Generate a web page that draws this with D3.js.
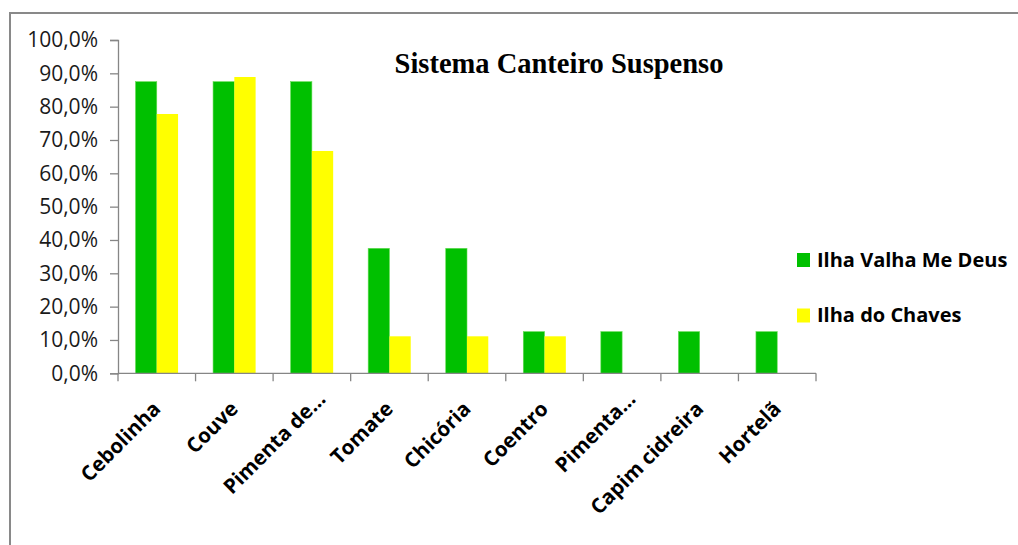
<!DOCTYPE html>
<html>
<head>
<meta charset="utf-8">
<script src="https://cdn.jsdelivr.net/npm/d3@7"></script>
<style>
  body { margin: 0; background: #ffffff; }
  svg { display: block; }
</style>
</head>
<body>
<svg id="drawing_region"></svg>
<script>
const categories = ['Cebolinha', 'Couve', 'Pimenta de…', 'Tomate', 'Chicória', 'Coentro', 'Pimenta…', 'Capim cidreira', 'Hortelã'];
const seriesNames = ['Ilha Valha Me Deus', 'Ilha do Chaves'];
const valhaMeDeus = [87.5, 87.5, 87.5, 37.5, 37.5, 12.5, 12.5, 12.5, 12.5];
const doChaves = [77.8, 88.9, 66.7, 11.1, 11.1, 11.1, 0, 0, 0];
const yTicks = [0, 10, 20, 30, 40, 50, 60, 70, 80, 90, 100];
const colors = ['#00c000', '#ffff00'];

class GroupedBarChart {

    constructor(config) {
        this.config = config;
        this.init();
    }

    init() {
        const self = this;
        const c = self.config;

        self.svg = d3.select(c.parent)
            .attr('width', c.width)
            .attr('height', c.height);

        // outer frame (right and bottom edges fall off the picture)
        self.svg.append('rect')
            .attr('x', 10).attr('y', 13)
            .attr('width', 1200).attr('height', 700)
            .attr('fill', 'none')
            .attr('stroke', '#898989')
            .attr('stroke-width', 2);

        self.chart = self.svg.append('g')
            .attr('transform', `translate(${c.margin.left}, ${c.margin.top})`);

        self.inner_width = c.plotWidth;
        self.inner_height = c.plotHeight;

        self.xscale = d3.scaleBand()
            .domain(categories)
            .range([0, self.inner_width]);

        self.subscale = d3.scaleBand()
            .domain([0, 1])
            .range([17.5, self.xscale.bandwidth() - 17.5]);

        self.yscale = d3.scaleLinear()
            .domain([0, 100])
            .range([self.inner_height, 0]);
    }

    render() {
        const self = this;
        const rows = categories.map((cat, i) => ({ cat, vals: [valhaMeDeus[i], doChaves[i]] }));

        const groups = self.chart.selectAll('g.group')
            .data(rows)
            .join('g')
            .attr('class', 'group')
            .attr('transform', d => `translate(${self.xscale(d.cat)}, 0)`);

        groups.selectAll('rect')
            .data(d => d.vals.map((v, k) => ({ v, k })).filter(e => e.v > 0))
            .join('rect')
            .attr('x', e => self.subscale(e.k))
            .attr('y', e => self.yscale(e.v))
            .attr('width', self.subscale.bandwidth())
            .attr('height', e => self.yscale(0) - self.yscale(e.v))
            .attr('fill', e => colors[e.k])
            .attr('stroke', e => e.k === 0 ? '#66dd55' : 'none')
            .attr('stroke-width', 0.6);

        // y axis
        const yaxis = d3.axisLeft(self.yscale)
            .tickValues(yTicks)
            .tickSize(8)
            .tickPadding(12)
            .tickFormat(d => d.toFixed(1).replace('.', ',') + '%');

        const yg = self.chart.append('g').call(yaxis);
        yg.select('.domain').attr('stroke', '#868686').attr('stroke-width', 1.3);
        yg.selectAll('.tick line').attr('stroke', '#868686').attr('stroke-width', 1.3);
        yg.selectAll('.tick text')
            .attr('font-family', 'Open Sans')
            .attr('font-size', 21)
            .attr('fill', '#1a1a1a');

        // x axis
        const xg = self.chart.append('g')
            .attr('transform', `translate(0, ${self.inner_height})`);
        xg.append('line')
            .attr('x1', 0).attr('x2', self.inner_width)
            .attr('stroke', '#868686').attr('stroke-width', 1.3);
        const edges = d3.range(categories.length + 1).map(i => i * self.xscale.step());
        xg.selectAll('line.tick')
            .data(edges)
            .join('line')
            .attr('class', 'tick')
            .attr('x1', d => d).attr('x2', d => d)
            .attr('y1', 0).attr('y2', 8)
            .attr('stroke', '#868686').attr('stroke-width', 1.3);

        xg.selectAll('text.cat')
            .data(categories)
            .join('text')
            .attr('class', 'cat')
            .attr('text-anchor', 'end')
            .attr('transform', d => `translate(${self.xscale(d) + self.xscale.bandwidth() / 2 + 5}, 37) rotate(-45)`)
            .attr('dx', d => d.endsWith('…') ? 14 : 0)
            .attr('font-family', 'Open Sans')
            .attr('font-weight', 'bold')
            .attr('font-size', 20.5)
            .attr('fill', '#000')
            .text(d => d);

        // title
        self.svg.append('text')
            .attr('x', 559).attr('y', 73)
            .attr('text-anchor', 'middle')
            .attr('font-family', 'Liberation Serif')
            .attr('font-weight', 'bold')
            .attr('font-size', 28.5)
            .attr('fill', '#000')
            .text('Sistema Canteiro Suspenso');

        // legend
        const legend = self.svg.selectAll('g.legend')
            .data(seriesNames)
            .join('g')
            .attr('class', 'legend')
            .attr('transform', (d, i) => `translate(797, ${253 + i * 55.5})`);
        legend.append('rect')
            .attr('width', 13).attr('height', 14)
            .attr('fill', (d, i) => colors[i]);
        legend.append('text')
            .attr('x', 20).attr('y', 13.5)
            .attr('font-family', 'Open Sans')
            .attr('font-weight', 'bold')
            .attr('font-size', 20)
            .attr('fill', '#000')
            .text(d => d);
    }
}

const chart = new GroupedBarChart({
    parent: '#drawing_region',
    width: 1018,
    height: 545,
    margin: { top: 40, left: 118 },
    plotWidth: 698,
    plotHeight: 333.3
});
chart.render();
</script>
</body>
</html>
